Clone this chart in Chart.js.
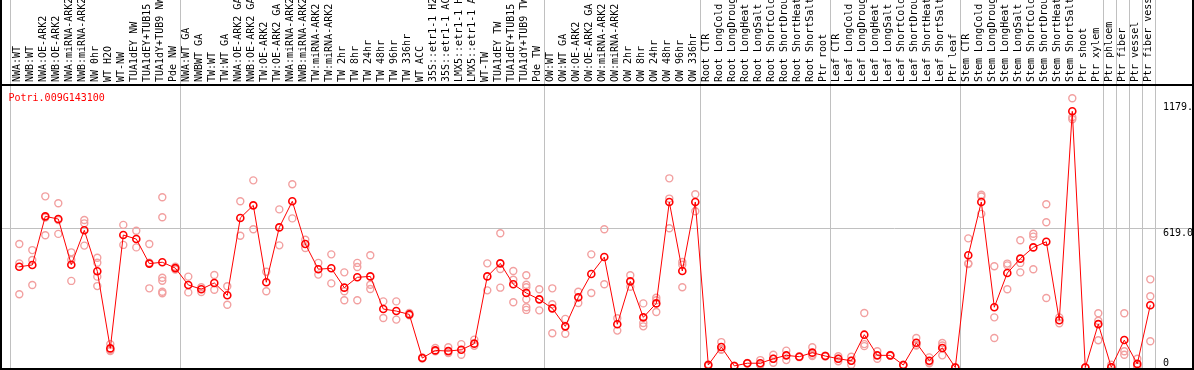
<!DOCTYPE html>
<html>
<head>
<meta charset="utf-8">
<script src="https://cdn.jsdelivr.net/npm/chart.js@4.4.1/dist/chart.umd.min.js"></script>
<style>
  html, body { margin: 0; padding: 0; background: #fff; }
  #frame {
    width: 1190px;
    height: 368px;
    border-left: 2px solid #000;
    border-right: 2px solid #000;
    border-bottom: 2px solid #000;
  }
  canvas { display: block; }
</style>
</head>
<body>
<div id="frame"><canvas id="chart" width="1190" height="368"></canvas></div>
<script>
// ---- data ----
const geneId = 'Potri.009G143100';

const sampleLabels = [
  'NWA:WT', 'NWB:WT', 'NWA:OE-ARK2', 'NWB:OE-ARK2', 'NWA:miRNA-ARK2', 'NWB:miRNA-ARK2',
  'NW 0hr', 'WT H2O', 'WT-NW', 'TUA1dEY NW', 'TUA1dEY+TUB15', 'TUA1dY+TUB9 NW', 'Pde NW',
  'NWA:WT GA', 'NWBWT GA', 'TW:WT', 'TW:WT GA', 'NWA:OE-ARK2 GA', 'NWB:OE-ARK2 GA',
  'TW:OE-ARK2', 'TW:OE-ARK2 GA', 'NWA:miRNA-ARK2', 'NWB:miRNA-ARK2', 'TW:miRNA-ARK2', 'TW:miRNA-ARK2',
  'TW 2hr', 'TW 8hr', 'TW 24hr', 'TW 48hr', 'TW 96hr', 'TW 336hr', 'WT ACC',
  '35S::etr1-1 H2', '35S::etr1-1 AC', 'LMX5::etr1-1 H', 'LMX5::etr1-1 A',
  'WT-TW', 'TUA1dEY TW', 'TUA1dEY+TUB15', 'TUA1dY+TUB9 TW', 'Pde TW',
  'OW:WT', 'OW:WT GA', 'OW:OE-ARK2', 'OW:OE-ARK2 GA', 'OW:miRNA-ARK2', 'OW:miRNA-ARK2',
  'OW 2hr', 'OW 8hr', 'OW 24hr', 'OW 48hr', 'OW 96hr', 'OW 336hr',
  'Root CTR', 'Root LongCold', 'Root LongDroug', 'Root LongHeat', 'Root LongSalt',
  'Root ShortCold', 'Root ShortDrou', 'Root ShortHeat', 'Root ShortSalt', 'Ptr root',
  'Leaf CTR', 'Leaf LongCold', 'Leaf LongDroug', 'Leaf LongHeat', 'Leaf LongSalt',
  'Leaf ShortCold', 'Leaf ShortDrou', 'Leaf ShortHeat', 'Leaf ShortSalt', 'Ptr leaf',
  'Stem CTR', 'Stem LongCold', 'Stem LongDroug', 'Stem LongHeat', 'Stem LongSalt',
  'Stem ShortCold', 'Stem ShortDrou', 'Stem ShortHeat', 'Stem ShortSalt', 'Ptr shoot', 'Ptr xylem',
  'Ptr phloem', 'Ptr fiber', 'Ptr vessel', 'Ptr fiber vess'
];

// mean expression per sample (red line)
const meanValues = [
  448, 456, 672, 660, 457, 610, 428, 85, 589, 571, 462, 468, 442,
  367, 348, 376, 321, 665, 721, 379, 623, 739, 549, 437, 441,
  355, 401, 405, 260, 251, 236, 42, 76, 73, 79, 106, 405, 463, 370, 331, 303,
  263, 183, 312, 416, 491, 192, 383, 223, 285, 736, 429, 736,
  11, 91, 7, 19, 19, 39, 54, 48, 66, 51,
  39, 30, 146, 54, 54, 11, 110, 30, 87, 0,
  499, 736, 268, 420, 484, 534, 559, 210, 1139, 0, 193,
  1, 122, 16, 277
];

// individual replicates per sample (pink circles)
const replicateValues = [
  [549, 463, 326], [522, 478, 367], [761, 667, 588], [730, 656, 594], [512, 478, 385],
  [656, 641, 542], [488, 466, 404, 362], [104, 78, 73], [634, 545], [608, 534],
  [549, 466, 352], [757, 668, 399, 386, 337, 330], [448, 436],
  [404, 334], [357, 336], [411, 346], [361, 279], [739, 586], [832, 615], [426, 339],
  [703, 543], [815, 663], [568, 531], [465, 413], [503, 374], [423, 339, 299],
  [465, 447, 299], [499, 368, 349], [294, 220], [294, 213], [242, 232], [45, 40],
  [87, 72], [90, 64], [104, 57], [124, 97], [463, 343], [597, 438, 355],
  [429, 390, 290], [410, 368, 357, 303, 268, 256], [348, 254],
  [352, 281, 152], [216, 150], [337, 287], [503, 331], [615, 370], [219, 164],
  [410, 359], [285, 198, 183], [310, 299, 247], [841, 751, 619], [469, 457, 357], [770, 695],
  [14, 8], [113, 81, 79], [8, 6], [20, 18], [33, 12, 12], [57, 39, 21], [75, 33],
  [50, 46], [90, 57, 51], [53, 49],
  [50, 39, 28], [48, 30, 12], [242, 104, 95], [72, 39], [56, 52], [12, 10],
  [131, 101, 98], [45, 26, 19], [109, 98, 54], [0, 0],
  [574, 463, 460], [768, 760, 683], [450, 223, 131], [462, 454, 348], [566, 465, 423],
  [595, 582, 437], [726, 646, 309], [223, 197], [1197, 1113, 1104], [0, 0], [241, 208, 121],
  [12, 0, 0], [241, 72, 57], [39, 5, 4], [392, 317, 117]
];

// vertical separators between sample groups (in sample-index units)
const groupBreaks = [-0.66, 12.38, 40.38, 52.38, 62.38, 72.38, 83.38, 84.38, 85.38, 86.38, 87.38];

const yTickValues = [0, 619, 1179];
const yTickLabels = ['0', '619.0', '1179.'];
const yGridValues = [619];

// ---- chart ----
const MONO = '"DejaVu Sans Mono", monospace';
const X_MIN = -1.331;
const X_MAX = 90.208;

const meanPoints = meanValues.map((v, i) => ({ x: i, y: v }));
const replicatePoints = [];
replicateValues.forEach((reps, i) => {
  reps.forEach(v => replicatePoints.push({ x: i, y: v }));
});

// horizontal axes: fixed height, no extra side padding for rotated labels
function fixTopAxis(height) {
  return s => {
    s.height = height;
    s.paddingLeft = 0;
    s.paddingRight = 0;
  };
}

const textPlugin = {
  id: 'textPlugin',
  afterDraw(chart) {
    const { ctx, chartArea, scales } = chart;
    const y = scales.y;
    ctx.save();
    ctx.font = '10px ' + MONO;
    ctx.textAlign = 'left';
    ctx.textBaseline = 'alphabetic';

    // gene id
    ctx.fillStyle = '#ff0000';
    ctx.fillText(geneId, 6.5, 100.5);

    // y labels, drawn inside the plot next to the right axis
    ctx.fillStyle = '#000';
    yTickValues.forEach((v, i) => {
      const py = y.getPixelForValue(v);
      const base = Math.min(py + 8, chartArea.bottom - 2.5);
      ctx.fillText(yTickLabels[i], 1161, base);
    });
    ctx.restore();
  }
};

new Chart(document.getElementById('chart'), {
  type: 'line',
  data: {
    datasets: [
      {
        label: 'mean',
        data: meanPoints,
        borderColor: '#ff0000',
        borderWidth: 1,
        pointRadius: 3.5,
        pointBorderWidth: 1.6,
        pointBorderColor: '#ff0000',
        pointBackgroundColor: 'rgba(255,255,255,0)',
        tension: 0,
        order: 0
      },
      {
        type: 'scatter',
        label: 'replicates',
        data: replicatePoints,
        showLine: false,
        pointRadius: 3.5,
        pointBorderWidth: 1.4,
        pointBorderColor: '#f2a0a0',
        pointBackgroundColor: 'rgba(255,255,255,0)',
        order: 1
      }
    ]
  },
  options: {
    responsive: false,
    devicePixelRatio: 1,
    animation: false,
    layout: { padding: 0, autoPadding: false },
    plugins: {
      legend: { display: false },
      tooltip: { enabled: false }
    },
    scales: {
      x: {
        type: 'linear',
        position: 'top',
        weight: 1,
        min: X_MIN,
        max: X_MAX,
        afterBuildTicks: s => { s.ticks = sampleLabels.map((_, i) => ({ value: i })); },
        afterFit: fixTopAxis(85),
        ticks: {
          autoSkip: false,
          minRotation: 90,
          maxRotation: 90,
          padding: 3,
          labelOffset: 10,
          color: '#000',
          font: { family: MONO, size: 10 },
          callback: (value, index) => sampleLabels[index]
        },
        grid: { display: false, drawTicks: false },
        border: { display: true, color: '#000', width: 2 }
      },
      groups: {
        type: 'linear',
        position: 'top',
        weight: 0,
        min: X_MIN,
        max: X_MAX,
        afterBuildTicks: s => { s.ticks = groupBreaks.map(v => ({ value: v })); },
        afterFit: fixTopAxis(0),
        ticks: { display: false },
        grid: { color: '#c0c0c0', lineWidth: 1, drawTicks: true, tickLength: 85 },
        border: { display: false }
      },
      y: {
        type: 'linear',
        position: 'right',
        min: -2.2,
        max: 1256,
        afterBuildTicks: s => { s.ticks = yGridValues.map(v => ({ value: v })); },
        afterFit: s => { s.width = 0; },
        ticks: { display: false },
        grid: { color: '#c0c0c0', lineWidth: 1, drawTicks: false },
        border: { display: false }
      }
    }
  },
  plugins: [textPlugin]
});
</script>
</body>
</html>
